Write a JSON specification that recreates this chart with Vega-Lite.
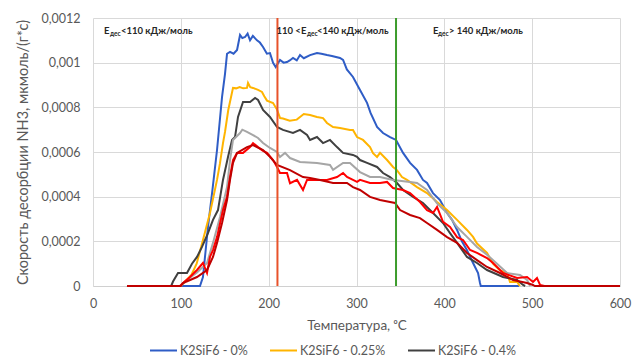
{
  "$schema": "https://vega.github.io/schema/vega-lite/v6.json",
  "width": 527,
  "height": 268,
  "autosize": {"type": "none"},
  "padding": {"left": 93, "top": 18, "right": 12, "bottom": 70},
  "background": "white",
  "config": {
    "font": "Lato",
    "view": {"stroke": null},
    "axis": {"gridColor": "#D9D9D9", "gridWidth": 1, "ticks": false, "labelFont": "Lato", "titleFont": "Lato", "labelColor": "#595959", "titleColor": "#595959", "titleFontWeight": "normal", "labelFontSize": 12.5, "titleFontSize": 13.5}
  },
  "datasets": {
    "blue": [{"T":38.7,"V":0},{"T":121.8,"V":0},{"T":125.2,"V":0.00004},{"T":128,"V":0.00015},{"T":130.9,"V":0.000264},{"T":136,"V":0.00043},{"T":141.2,"V":0.000609},{"T":144.6,"V":0.00075},{"T":146.9,"V":0.000846},{"T":150.3,"V":0.00095},{"T":152.6,"V":0.00104},{"T":156,"V":0.001048},{"T":160,"V":0.00104},{"T":164,"V":0.001057},{"T":167.4,"V":0.001124},{"T":170,"V":0.00111},{"T":173.1,"V":0.001115},{"T":176,"V":0.00113},{"T":178.8,"V":0.0011},{"T":182,"V":0.00112},{"T":186.7,"V":0.0011},{"T":190,"V":0.00109},{"T":193.6,"V":0.00107},{"T":198,"V":0.00104},{"T":201.5,"V":0.001043},{"T":205,"V":0.000999},{"T":208,"V":0.00098},{"T":212.9,"V":0.001012},{"T":217,"V":0.001},{"T":220.9,"V":0.001003},{"T":224,"V":0.00101},{"T":227.7,"V":0.001021},{"T":232,"V":0.00101},{"T":235.7,"V":0.001034},{"T":240,"V":0.00102},{"T":247.1,"V":0.001034},{"T":255,"V":0.001043},{"T":260,"V":0.00104},{"T":266.4,"V":0.001034},{"T":272,"V":0.00103},{"T":281.2,"V":0.001021},{"T":284.7,"V":0.001012},{"T":289,"V":0.00097},{"T":296,"V":0.000936},{"T":304,"V":0.000878},{"T":312,"V":0.00082},{"T":316,"V":0.000775},{"T":323.4,"V":0.000712},{"T":330.2,"V":0.000685},{"T":338.2,"V":0.000667},{"T":345,"V":0.000654},{"T":353,"V":0.000596},{"T":361,"V":0.000551},{"T":368.9,"V":0.00052},{"T":375.7,"V":0.000475},{"T":380.3,"V":0.000461},{"T":387.1,"V":0.000416},{"T":395.1,"V":0.000385},{"T":403.1,"V":0.000327},{"T":408.8,"V":0.000296},{"T":414.5,"V":0.000251},{"T":420,"V":0.0002},{"T":425.8,"V":0.00016},{"T":432.7,"V":0.000103},{"T":438.4,"V":0.000058},{"T":440.6,"V":0.0000134},{"T":441.5,"V":0},{"T":485,"V":0}],
    "orange": [{"T":38.7,"V":0},{"T":100,"V":0},{"T":105,"V":0.00002},{"T":112,"V":0.00005},{"T":118,"V":0.0001},{"T":125.2,"V":0.000206},{"T":133.2,"V":0.000327},{"T":141.2,"V":0.000475},{"T":144.6,"V":0.00055},{"T":148,"V":0.00064},{"T":150.3,"V":0.00069},{"T":154,"V":0.000788},{"T":159.4,"V":0.000887},{"T":163,"V":0.000885},{"T":167,"V":0.000891},{"T":171,"V":0.000885},{"T":175.3,"V":0.000887},{"T":176.5,"V":0.000909},{"T":179,"V":0.00089},{"T":182.2,"V":0.000887},{"T":187.9,"V":0.000878},{"T":192.4,"V":0.000869},{"T":195,"V":0.00085},{"T":198.1,"V":0.00083},{"T":205,"V":0.000819},{"T":209.5,"V":0.00079},{"T":213,"V":0.000752},{"T":216.3,"V":0.00075},{"T":224,"V":0.00074},{"T":232,"V":0.000745},{"T":235.7,"V":0.000757},{"T":240,"V":0.00077},{"T":247.1,"V":0.000766},{"T":255,"V":0.000757},{"T":261.9,"V":0.000752},{"T":266.4,"V":0.00073},{"T":273.3,"V":0.000712},{"T":281.2,"V":0.000707},{"T":292.6,"V":0.000699},{"T":296,"V":0.000699},{"T":300.6,"V":0.000667},{"T":307.4,"V":0.000654},{"T":315.4,"V":0.000622},{"T":318.8,"V":0.000595},{"T":323.4,"V":0.000578},{"T":326.8,"V":0.000596},{"T":334.8,"V":0.000564},{"T":341.6,"V":0.000533},{"T":346,"V":0.000519},{"T":351.8,"V":0.000488},{"T":357.5,"V":0.000475},{"T":368.9,"V":0.000443},{"T":380.3,"V":0.000416},{"T":391.7,"V":0.000376},{"T":403.1,"V":0.00034},{"T":414.5,"V":0.000296},{"T":425.8,"V":0.000251},{"T":432.7,"V":0.00022},{"T":437.2,"V":0.00019},{"T":448.6,"V":0.000148},{"T":455.4,"V":0.0001},{"T":463.4,"V":0.00007},{"T":471.4,"V":0.0000582},{"T":474.8,"V":0.0000179},{"T":482.8,"V":0.0000179},{"T":486,"V":0}],
    "darkgray": [{"T":38.7,"V":0},{"T":89,"V":0},{"T":91.1,"V":0.00002},{"T":96.8,"V":0.000058},{"T":107,"V":0.0000582},{"T":112.7,"V":0.0001},{"T":118.4,"V":0.00013},{"T":124.1,"V":0.000175},{"T":130.9,"V":0.000237},{"T":136.6,"V":0.000296},{"T":142.3,"V":0.00034},{"T":148,"V":0.000475},{"T":153.7,"V":0.000578},{"T":158.3,"V":0.000654},{"T":161.7,"V":0.000667},{"T":165.1,"V":0.000757},{"T":170.8,"V":0.000824},{"T":178.8,"V":0.000824},{"T":184.5,"V":0.000842},{"T":187.9,"V":0.000833},{"T":193.6,"V":0.000788},{"T":201.5,"V":0.000757},{"T":209.5,"V":0.000712},{"T":216.3,"V":0.000699},{"T":227.7,"V":0.000685},{"T":235.7,"V":0.000699},{"T":243.7,"V":0.000676},{"T":247.1,"V":0.000654},{"T":255,"V":0.000667},{"T":261.9,"V":0.00064},{"T":269.8,"V":0.000654},{"T":277.8,"V":0.000622},{"T":284.7,"V":0.000596},{"T":296,"V":0.000587},{"T":300.6,"V":0.000578},{"T":304,"V":0.000564},{"T":312,"V":0.000551},{"T":323.4,"V":0.000533},{"T":330.2,"V":0.000506},{"T":338.2,"V":0.000488},{"T":346.1,"V":0.000461},{"T":353,"V":0.00043},{"T":364.4,"V":0.000399},{"T":375.7,"V":0.000372},{"T":387.1,"V":0.000327},{"T":398.5,"V":0.000282},{"T":406.5,"V":0.000237},{"T":414.5,"V":0.000193},{"T":425.8,"V":0.00013},{"T":437.2,"V":0.000103},{"T":448.6,"V":0.0000716},{"T":466.8,"V":0.0000403},{"T":482.8,"V":0.0000269},{"T":489.6,"V":0.0000045},{"T":492,"V":0}],
    "lightgray": [{"T":38.7,"V":0},{"T":100,"V":0},{"T":104.7,"V":0.00002},{"T":118.4,"V":0.00006},{"T":129.8,"V":0.000103},{"T":136.6,"V":0.000193},{"T":144.6,"V":0.000309},{"T":152.6,"V":0.000443},{"T":156,"V":0.000564},{"T":159.4,"V":0.000654},{"T":167.4,"V":0.000685},{"T":170,"V":0.0007},{"T":175.3,"V":0.00069},{"T":182.2,"V":0.000676},{"T":187.9,"V":0.000663},{"T":193.6,"V":0.00064},{"T":201.5,"V":0.000618},{"T":209.5,"V":0.0006},{"T":212.9,"V":0.000578},{"T":218.6,"V":0.000596},{"T":224.3,"V":0.000573},{"T":235.7,"V":0.000555},{"T":255,"V":0.000551},{"T":269.8,"V":0.000542},{"T":273.3,"V":0.00052},{"T":284.7,"V":0.000551},{"T":292.6,"V":0.000551},{"T":304,"V":0.00051},{"T":315.4,"V":0.000488},{"T":326.8,"V":0.000488},{"T":341.6,"V":0.000475},{"T":361,"V":0.000466},{"T":368.9,"V":0.000461},{"T":380.3,"V":0.00043},{"T":391.7,"V":0.00037},{"T":403.1,"V":0.000327},{"T":414.5,"V":0.000264},{"T":425.8,"V":0.00022},{"T":437.2,"V":0.000175},{"T":448.6,"V":0.00014},{"T":460,"V":0.0001},{"T":471.4,"V":0.0000582},{"T":486.2,"V":0.0000493},{"T":494.2,"V":0.0000269},{"T":497.6,"V":0}],
    "red": [{"T":38.7,"V":0},{"T":99,"V":0},{"T":102.5,"V":0.0000134},{"T":110.4,"V":0.00004},{"T":118.4,"V":0.0000716},{"T":125.2,"V":0.000103},{"T":129.8,"V":0.0000582},{"T":133.2,"V":0.00013},{"T":136.6,"V":0.000161},{"T":141.2,"V":0.000219},{"T":144.6,"V":0.00028},{"T":148,"V":0.00034},{"T":152.6,"V":0.0004},{"T":156,"V":0.000488},{"T":159.4,"V":0.000564},{"T":164,"V":0.000596},{"T":170.8,"V":0.000596},{"T":178.8,"V":0.000622},{"T":182.2,"V":0.00064},{"T":187.9,"V":0.000622},{"T":193.6,"V":0.000605},{"T":198.1,"V":0.000596},{"T":205,"V":0.000564},{"T":209.5,"V":0.000533},{"T":212.9,"V":0.000506},{"T":220.9,"V":0.000506},{"T":224.3,"V":0.00046},{"T":232.3,"V":0.000475},{"T":239.1,"V":0.00043},{"T":243.7,"V":0.000475},{"T":255,"V":0.000475},{"T":266.4,"V":0.000475},{"T":277.8,"V":0.000488},{"T":284.7,"V":0.000506},{"T":289.2,"V":0.000488},{"T":300.6,"V":0.000466},{"T":304,"V":0.000475},{"T":315.4,"V":0.000461},{"T":326.8,"V":0.000461},{"T":334.8,"V":0.000466},{"T":341.6,"V":0.000439},{"T":353,"V":0.00043},{"T":361,"V":0.000416},{"T":372.3,"V":0.000376},{"T":380.3,"V":0.00034},{"T":387.1,"V":0.000327},{"T":391.7,"V":0.000354},{"T":398.5,"V":0.000287},{"T":406.5,"V":0.000264},{"T":414.5,"V":0.000219},{"T":421.3,"V":0.000206},{"T":429.3,"V":0.000161},{"T":437.2,"V":0.000148},{"T":448.6,"V":0.000125},{"T":455.4,"V":0.000103},{"T":466.8,"V":0.0000582},{"T":482.8,"V":0.0000358},{"T":494.2,"V":0.0000403},{"T":501,"V":0.0000179},{"T":505.5,"V":0.0000358},{"T":509,"V":0.0000045},{"T":514,"V":0}],
    "darkred": [{"T":38.7,"V":0},{"T":100,"V":0},{"T":102.5,"V":0.0000134},{"T":118.4,"V":0.0000403},{"T":129.8,"V":0.0000716},{"T":136.6,"V":0.00013},{"T":141.2,"V":0.000193},{"T":146.9,"V":0.000282},{"T":152.6,"V":0.000385},{"T":156,"V":0.000475},{"T":159.4,"V":0.000551},{"T":164,"V":0.000596},{"T":175.3,"V":0.000622},{"T":182.2,"V":0.000631},{"T":193.6,"V":0.000609},{"T":201.5,"V":0.000578},{"T":209.5,"V":0.000542},{"T":224.3,"V":0.000519},{"T":239.1,"V":0.000488},{"T":247.1,"V":0.000484},{"T":258.5,"V":0.000475},{"T":273.3,"V":0.000461},{"T":289.2,"V":0.000461},{"T":296,"V":0.000443},{"T":304,"V":0.00043},{"T":315.4,"V":0.000399},{"T":326.8,"V":0.000385},{"T":338.2,"V":0.000376},{"T":343.9,"V":0.000372},{"T":349.6,"V":0.00034},{"T":361,"V":0.000318},{"T":372.3,"V":0.000304},{"T":380.3,"V":0.000282},{"T":391.7,"V":0.000251},{"T":403.1,"V":0.000219},{"T":414.5,"V":0.000193},{"T":425.8,"V":0.000148},{"T":437.2,"V":0.000116},{"T":448.6,"V":0.0000851},{"T":463.4,"V":0.0000582},{"T":478.2,"V":0.0000269},{"T":494.2,"V":0.0000134},{"T":501,"V":0.0000045},{"T":503,"V":0},{"T":600,"V":0}],
    "bounds1": [{"T": 210}],
    "bounds2": [{"T": 345}],
    "labels": [{"T":12.5,"V":0.00114,"txt":"E"},{"T":31.9,"V":0.00114,"txt":"<110 кДж/моль"},{"T":208.9,"V":0.00114,"txt":"110 <"},{"T":236.8,"V":0.00114,"txt":"E"},{"T":255,"V":0.00114,"txt":"<140 кДж/моль"},{"T":387.1,"V":0.00114,"txt":"E"},{"T":405.3,"V":0.00114,"txt":"> 140 кДж/моль"}],
    "subs": [{"T":19.4,"V":0.00114,"txt":"дес"},{"T":243.7,"V":0.00114,"txt":"дес"},{"T":392.8,"V":0.00114,"txt":"дес"}]
  },
  "layer": [
    {
      "data": {"name": "blue"},
      "mark": {"type": "line", "strokeWidth": 2, "interpolate": "linear"},
      "encoding": {
        "x": {"field": "T", "type": "quantitative", "scale": {"domain": [0, 600], "nice": false},
          "axis": {"title": "Температура, ᵒC", "values": [0,100,200,300,400,500,600], "grid": true, "domainColor": "#D0D0D0", "labelPadding": 11, "titlePadding": 9, "labelFlush": false}},
        "y": {"field": "V", "type": "quantitative", "scale": {"domain": [0, 0.0012], "nice": false},
          "axis": {"title": "Скорость десорбции NH3, мкмоль/(г*с)", "titleFontSize": 14.5, "values": [0,0.0002,0.0004,0.0006,0.0008,0.001,0.0012], "labelExpr": "replace(format(datum.value, '.4~f'), '.', ',')", "domain": false, "grid": true, "labelPadding": 13, "titlePadding": 10}},
        "color": {"datum": "K2SiF6 - 0%", "type": "nominal",
          "scale": {"domain": ["K2SiF6 - 0%", "K2SiF6 - 0.25%", "K2SiF6 - 0.4%", "K2SiF6 - 0.5%", "K2SiF6 - 1%", "K2SiF6 - 2%"], "range": ["#2F5DC6", "#FFB400", "#404040", "#A6A6A6", "#FF0000", "#C00000"]},
          "legend": {"orient": "none", "legendX": 56, "legendY": 318, "direction": "horizontal", "title": null, "values": ["K2SiF6 - 0%", "K2SiF6 - 0.25%", "K2SiF6 - 0.4%"], "symbolType": "stroke", "symbolSize": 729, "symbolStrokeWidth": 2, "labelFontSize": 12.5, "labelColor": "#595959", "labelFont": "Lato", "columnPadding": 18, "labelOffset": 2}}
      }
    },
    {"data": {"name": "orange"}, "mark": {"type": "line", "strokeWidth": 2}, "encoding": {"x": {"field": "T", "type": "quantitative"}, "y": {"field": "V", "type": "quantitative"}, "color": {"datum": "K2SiF6 - 0.25%", "type": "nominal"}}},
    {"data": {"name": "darkgray"}, "mark": {"type": "line", "strokeWidth": 2}, "encoding": {"x": {"field": "T", "type": "quantitative"}, "y": {"field": "V", "type": "quantitative"}, "color": {"datum": "K2SiF6 - 0.4%", "type": "nominal"}}},
    {"data": {"name": "lightgray"}, "mark": {"type": "line", "strokeWidth": 2}, "encoding": {"x": {"field": "T", "type": "quantitative"}, "y": {"field": "V", "type": "quantitative"}, "color": {"datum": "K2SiF6 - 0.5%", "type": "nominal"}}},
    {"data": {"name": "red"}, "mark": {"type": "line", "strokeWidth": 2}, "encoding": {"x": {"field": "T", "type": "quantitative"}, "y": {"field": "V", "type": "quantitative"}, "color": {"datum": "K2SiF6 - 1%", "type": "nominal"}}},
    {"data": {"name": "darkred"}, "mark": {"type": "line", "strokeWidth": 2}, "encoding": {"x": {"field": "T", "type": "quantitative"}, "y": {"field": "V", "type": "quantitative"}, "color": {"datum": "K2SiF6 - 2%", "type": "nominal"}}},
    {"data": {"name": "bounds1"}, "mark": {"type": "rule", "color": "#E8522A", "strokeWidth": 2}, "encoding": {"x": {"field": "T", "type": "quantitative"}}},
    {"data": {"name": "bounds2"}, "mark": {"type": "rule", "color": "#3C9C2C", "strokeWidth": 2}, "encoding": {"x": {"field": "T", "type": "quantitative"}}},
    {"data": {"name": "labels"}, "mark": {"type": "text", "align": "left", "baseline": "middle", "fontWeight": "bold", "fontSize": 9.5, "font": "Lato", "color": "#262626"}, "encoding": {"x": {"field": "T", "type": "quantitative"}, "y": {"field": "V", "type": "quantitative"}, "text": {"field": "txt"}}},
    {"data": {"name": "subs"}, "mark": {"type": "text", "align": "left", "baseline": "middle", "fontWeight": "bold", "fontSize": 6.5, "dy": 3, "font": "Lato", "color": "#262626"}, "encoding": {"x": {"field": "T", "type": "quantitative"}, "y": {"field": "V", "type": "quantitative"}, "text": {"field": "txt"}}}
  ]
}
